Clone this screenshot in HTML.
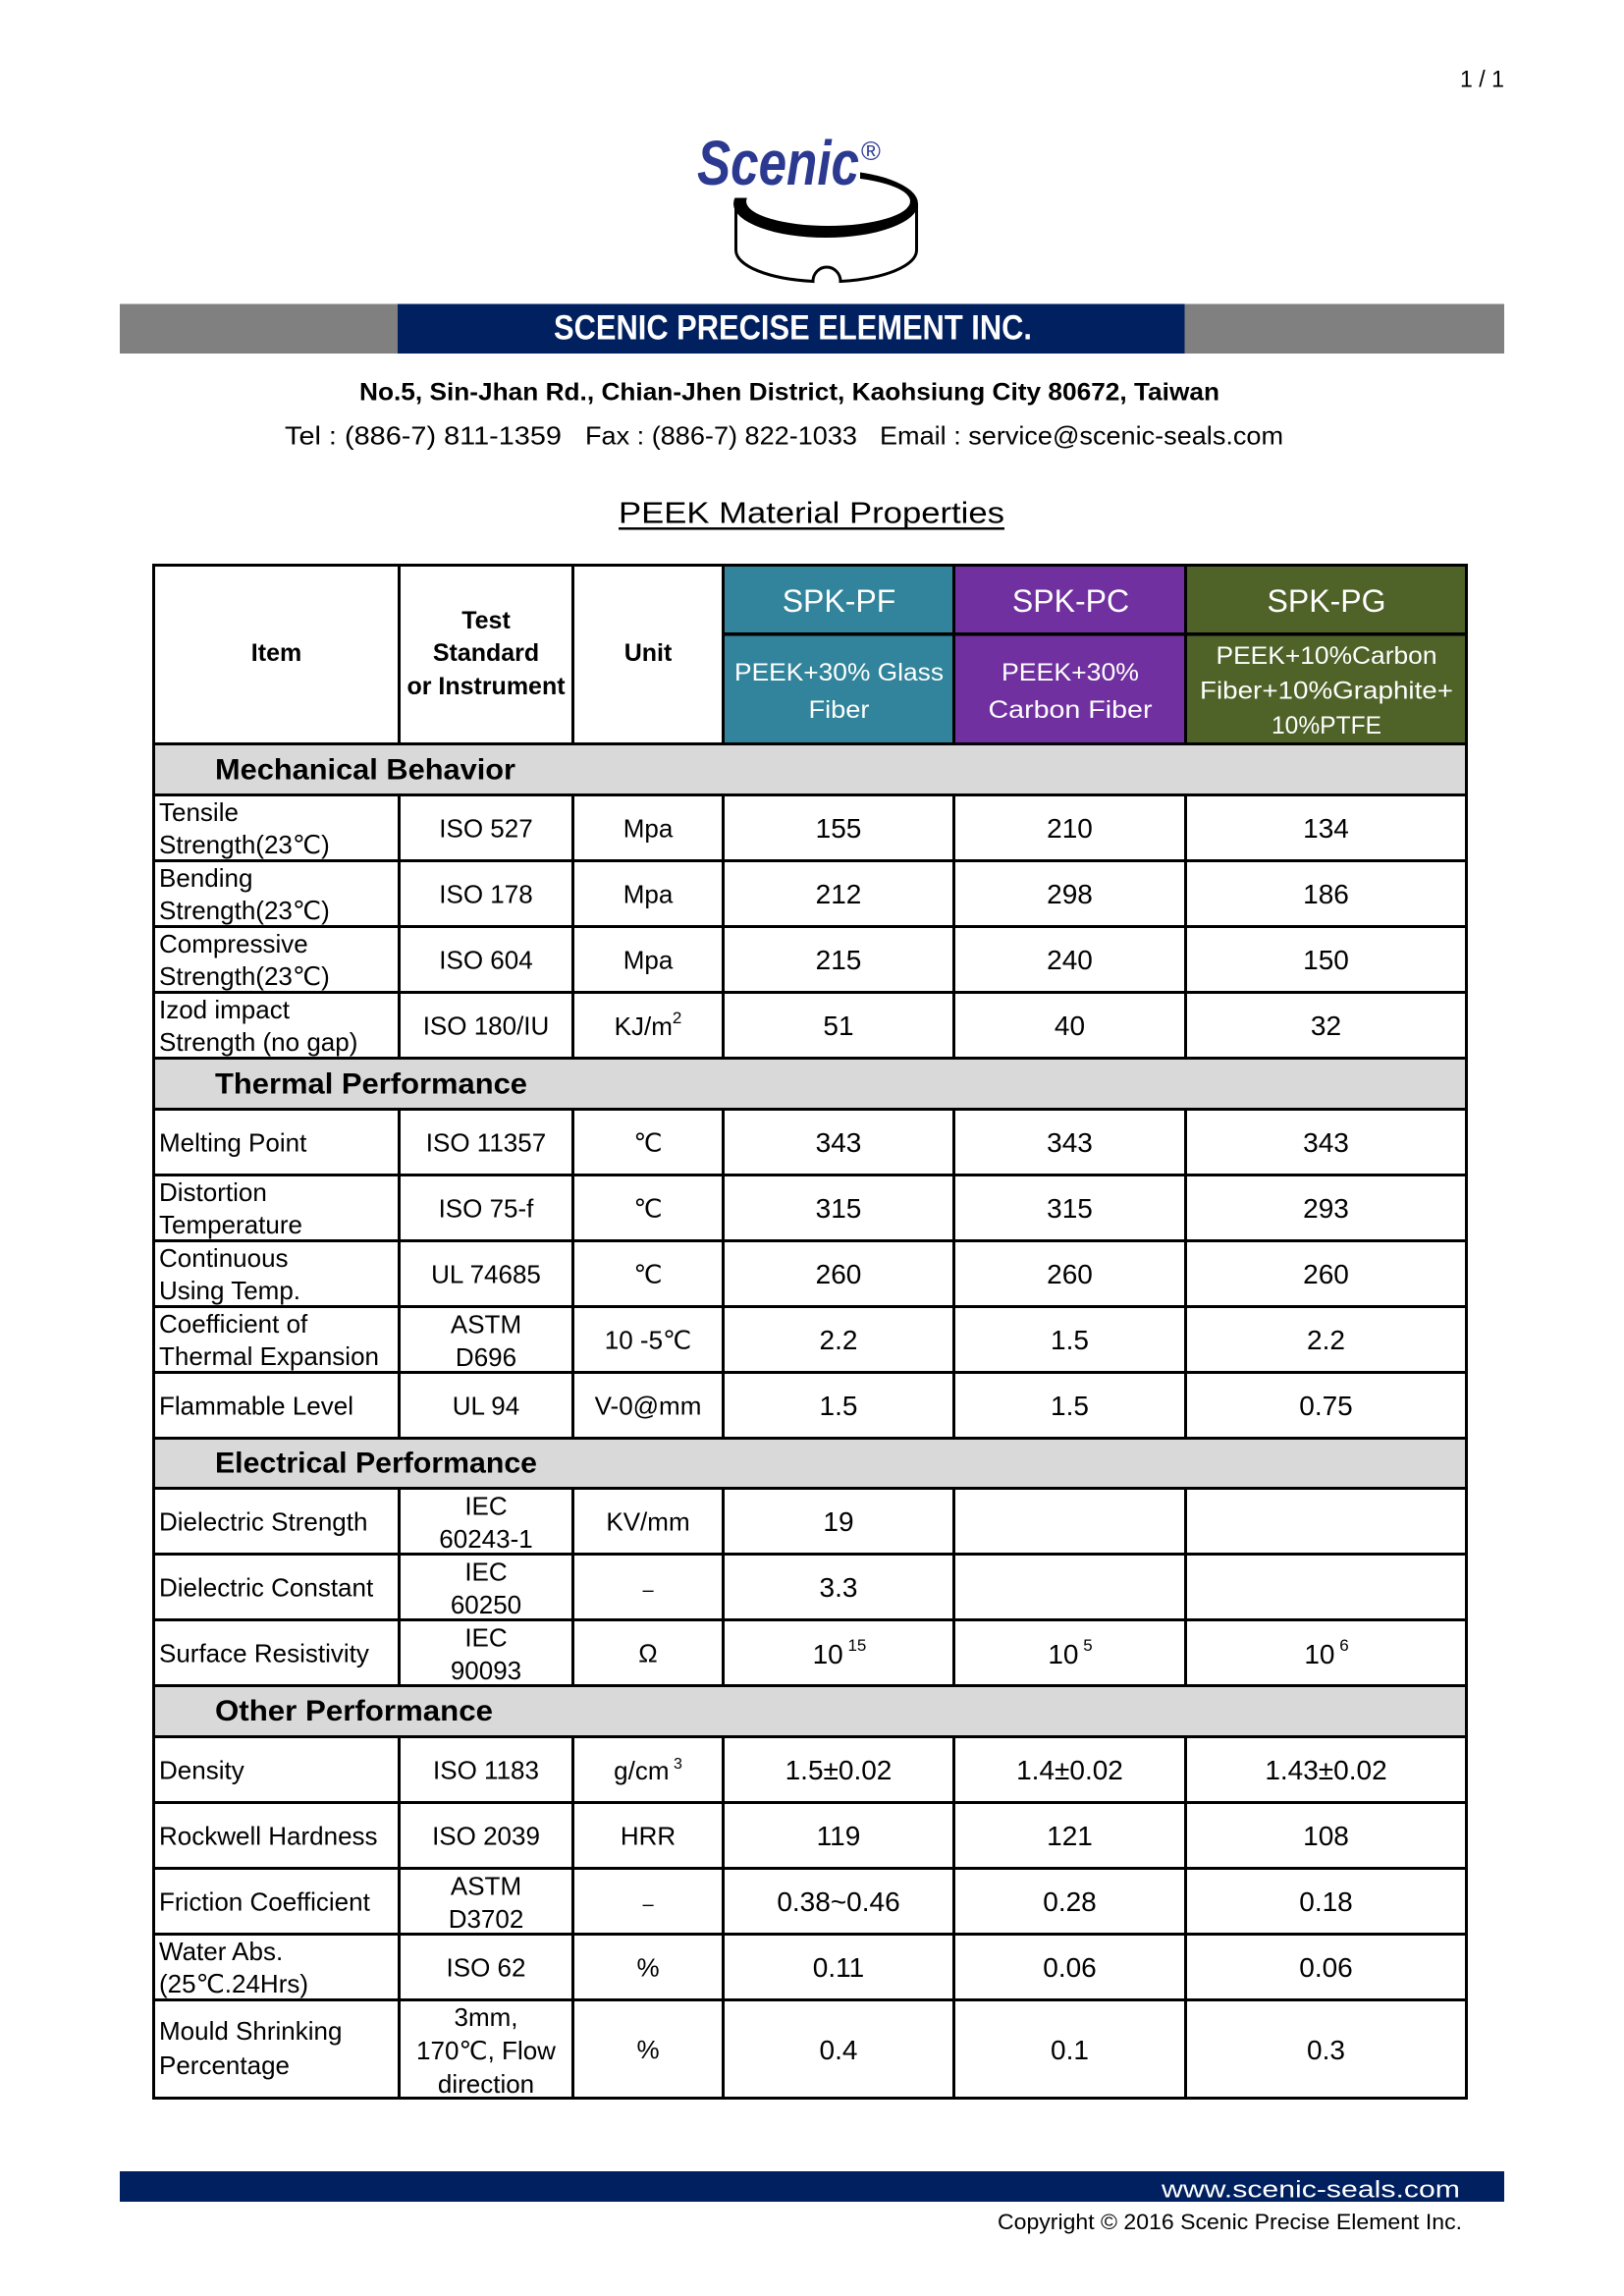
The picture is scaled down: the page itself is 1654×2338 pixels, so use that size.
<!DOCTYPE html>
<html><head><meta charset="utf-8"><style>
html,body{margin:0;padding:0;background:#fff;}
svg{display:block;}
</style></head><body>
<svg xmlns="http://www.w3.org/2000/svg" width="1654" height="2338" viewBox="0 0 1654 2338">
<rect width="1654" height="2338" fill="#fff"/>
<g font-family="'Liberation Sans','DejaVu Sans','Noto Sans CJK SC',sans-serif" fill="#000">

<text x="1487" y="88.5" font-size="24" textLength="45" lengthAdjust="spacingAndGlyphs">1 / 1</text>

<!-- Logo -->
<path fill="#000" fill-rule="evenodd" d="M747,207.5 a94,34.5 0 1,0 188,0 a94,34.5 0 1,0 -188,0 Z M760,205 a83.5,25 0 1,0 167,0 a83.5,25 0 1,0 -167,0 Z"/>
<rect x="738" y="150" width="138" height="51.5" fill="#fff"/>
<path fill="none" stroke="#000" stroke-width="3" d="M749.5,207 V255 A92,32 0 0,0 828,286.5 A14,14.5 0 0,1 856,286.5 A92,32 0 0,0 933.5,255 V207"/>
<text x="710" y="188" font-size="64" font-weight="bold" font-style="italic" fill="#2B3990" textLength="165" lengthAdjust="spacingAndGlyphs">Scenic</text>
<text x="877" y="163" font-size="27" fill="#2B3990">®</text>

<!-- Company bar -->
<rect x="122" y="309.5" width="1410" height="50.5" fill="#808080"/>
<rect x="405" y="309.5" width="801.5" height="50.5" fill="#002060"/>
<text x="564" y="345.5" font-size="35" font-weight="bold" fill="#fff" textLength="487" lengthAdjust="spacingAndGlyphs">SCENIC PRECISE ELEMENT INC.</text>

<text x="366" y="407.5" font-size="25" font-weight="bold" textLength="876" lengthAdjust="spacingAndGlyphs">No.5, Sin-Jhan Rd., Chian-Jhen District, Kaohsiung City 80672, Taiwan</text>
<text x="290" y="452.5" font-size="26" textLength="282" lengthAdjust="spacingAndGlyphs">Tel :  (886-7) 811-1359</text>
<text x="596" y="452.5" font-size="26" textLength="277" lengthAdjust="spacingAndGlyphs">Fax : (886-7) 822-1033</text>
<text x="896" y="452.5" font-size="26" textLength="411" lengthAdjust="spacingAndGlyphs">Email : service@scenic-seals.com</text>

<text x="630" y="532.5" font-size="31" textLength="393" lengthAdjust="spacingAndGlyphs">PEEK Material Properties</text>
<rect x="630" y="537" width="393" height="2.5" fill="#000"/>

<!-- Table fills -->
<rect x="735" y="574" width="235" height="185" fill="#31849B"/>
<rect x="970" y="574" width="236" height="185" fill="#7030A0"/>
<rect x="1206" y="574" width="289" height="185" fill="#4F6228"/>
<rect x="155" y="756" width="1340" height="55" fill="#D9D9D9"/>
<rect x="155" y="1076" width="1340" height="55" fill="#D9D9D9"/>
<rect x="155" y="1463" width="1340" height="54" fill="#D9D9D9"/>
<rect x="155" y="1715" width="1340" height="55" fill="#D9D9D9"/>

<!-- Horizontal lines -->
<g fill="#000">
<rect x="155" y="574" width="1340" height="3"/>
<rect x="735" y="644" width="760" height="3.5"/>
<rect x="155" y="756" width="1340" height="3"/>
<rect x="155" y="808" width="1340" height="3"/>
<rect x="155" y="875" width="1340" height="3"/>
<rect x="155" y="942" width="1340" height="3"/>
<rect x="155" y="1009" width="1340" height="3"/>
<rect x="155" y="1076" width="1340" height="3"/>
<rect x="155" y="1128" width="1340" height="3"/>
<rect x="155" y="1195" width="1340" height="3"/>
<rect x="155" y="1262" width="1340" height="3"/>
<rect x="155" y="1329" width="1340" height="3"/>
<rect x="155" y="1396" width="1340" height="3"/>
<rect x="155" y="1463" width="1340" height="3"/>
<rect x="155" y="1514" width="1340" height="3"/>
<rect x="155" y="1581" width="1340" height="3"/>
<rect x="155" y="1648" width="1340" height="3"/>
<rect x="155" y="1715" width="1340" height="3"/>
<rect x="155" y="1767" width="1340" height="3"/>
<rect x="155" y="1834" width="1340" height="3"/>
<rect x="155" y="1901" width="1340" height="3"/>
<rect x="155" y="1968" width="1340" height="3"/>
<rect x="155" y="2035" width="1340" height="3"/>
<rect x="155" y="2135" width="1340" height="3"/>
<!-- Outer verticals -->
<rect x="155" y="574" width="3" height="1564"/>
<rect x="1492" y="574" width="3" height="1564"/>
<!-- Inner verticals per segment -->
<rect x="405" y="574" width="3" height="185"/><rect x="582" y="574" width="3" height="185"/><rect x="735" y="574" width="3" height="185"/><rect x="970" y="574" width="3" height="185"/><rect x="1206" y="574" width="3" height="185"/>
<rect x="405" y="808" width="3" height="271"/><rect x="582" y="808" width="3" height="271"/><rect x="735" y="808" width="3" height="271"/><rect x="970" y="808" width="3" height="271"/><rect x="1206" y="808" width="3" height="271"/>
<rect x="405" y="1128" width="3" height="338"/><rect x="582" y="1128" width="3" height="338"/><rect x="735" y="1128" width="3" height="338"/><rect x="970" y="1128" width="3" height="338"/><rect x="1206" y="1128" width="3" height="338"/>
<rect x="405" y="1514" width="3" height="204"/><rect x="582" y="1514" width="3" height="204"/><rect x="735" y="1514" width="3" height="204"/><rect x="970" y="1514" width="3" height="204"/><rect x="1206" y="1514" width="3" height="204"/>
<rect x="405" y="1767" width="3" height="371"/><rect x="582" y="1767" width="3" height="371"/><rect x="735" y="1767" width="3" height="371"/><rect x="970" y="1767" width="3" height="371"/><rect x="1206" y="1767" width="3" height="371"/>
</g>

<!-- Header text -->
<g font-size="25" font-weight="bold" text-anchor="middle">
<text x="281.5" y="673">Item</text>
<text x="495" y="640">Test</text>
<text x="495" y="673">Standard</text>
<text x="495" y="707">or Instrument</text>
<text x="660" y="673">Unit</text>
</g>
<g font-size="32" fill="#fff" text-anchor="middle">
<text x="854.5" y="623">SPK-PF</text>
<text x="1090.5" y="623">SPK-PC</text>
<text x="1351" y="623">SPK-PG</text>
</g>
<g font-size="25" fill="#fff" text-anchor="middle">
<text x="854.5" y="693" textLength="213" lengthAdjust="spacingAndGlyphs">PEEK+30% Glass</text>
<text x="854.5" y="731" textLength="62" lengthAdjust="spacingAndGlyphs">Fiber</text>
<text x="1090" y="693" textLength="140" lengthAdjust="spacingAndGlyphs">PEEK+30%</text>
<text x="1090" y="731" textLength="167" lengthAdjust="spacingAndGlyphs">Carbon Fiber</text>
<text x="1351" y="676" textLength="225" lengthAdjust="spacingAndGlyphs">PEEK+10%Carbon</text>
<text x="1351" y="711.5" textLength="258" lengthAdjust="spacingAndGlyphs">Fiber+10%Graphite+</text>
<text x="1351" y="747" textLength="112" lengthAdjust="spacingAndGlyphs">10%PTFE</text>
</g>

<!-- Section bands -->
<g font-size="30" font-weight="bold">
<text x="219" y="793.5" textLength="306" lengthAdjust="spacingAndGlyphs">Mechanical Behavior</text>
<text x="219" y="1113.5" textLength="318" lengthAdjust="spacingAndGlyphs">Thermal Performance</text>
<text x="219" y="1499.5" textLength="328" lengthAdjust="spacingAndGlyphs">Electrical Performance</text>
<text x="219" y="1752" textLength="283" lengthAdjust="spacingAndGlyphs">Other Performance</text>
</g>

<!-- Item labels -->
<g font-size="26">
<text x="162" y="836">Tensile</text><text x="162" y="869">Strength(23℃)</text>
<text x="162" y="903">Bending</text><text x="162" y="936">Strength(23℃)</text>
<text x="162" y="970">Compressive</text><text x="162" y="1003">Strength(23℃)</text>
<text x="162" y="1037">Izod impact</text><text x="162" y="1070">Strength (no gap)</text>
<text x="162" y="1172.5">Melting Point</text>
<text x="162" y="1223">Distortion</text><text x="162" y="1256">Temperature</text>
<text x="162" y="1290">Continuous</text><text x="162" y="1323">Using Temp.</text>
<text x="162" y="1357">Coefficient of</text><text x="162" y="1390">Thermal Expansion</text>
<text x="162" y="1440.5">Flammable Level</text>
<text x="162" y="1558.5">Dielectric Strength</text>
<text x="162" y="1625.5">Dielectric Constant</text>
<text x="162" y="1692.5">Surface Resistivity</text>
<text x="162" y="1811.5">Density</text>
<text x="162" y="1878.5">Rockwell Hardness</text>
<text x="162" y="1945.5">Friction Coefficient</text>
<text x="162" y="1996">Water Abs.</text><text x="162" y="2029">(25℃.24Hrs)</text>
<text x="162" y="2077">Mould Shrinking</text><text x="162" y="2112">Percentage</text>
</g>

<!-- Test standard -->
<g font-size="26" text-anchor="middle">
<text x="495" y="852.5">ISO 527</text>
<text x="495" y="919.5">ISO 178</text>
<text x="495" y="986.5">ISO 604</text>
<text x="495" y="1053.5">ISO 180/IU</text>
<text x="495" y="1172.5">ISO 11357</text>
<text x="495" y="1239.5">ISO 75-f</text>
<text x="495" y="1306.5">UL 74685</text>
<text x="495" y="1357.5">ASTM</text><text x="495" y="1391">D696</text>
<text x="495" y="1440.5">UL 94</text>
<text x="495" y="1542.5">IEC</text><text x="495" y="1576">60243-1</text>
<text x="495" y="1609.5">IEC</text><text x="495" y="1643">60250</text>
<text x="495" y="1676.5">IEC</text><text x="495" y="1710">90093</text>
<text x="495" y="1811.5">ISO 1183</text>
<text x="495" y="1878.5">ISO 2039</text>
<text x="495" y="1929.5">ASTM</text><text x="495" y="1963">D3702</text>
<text x="495" y="2012.5">ISO 62</text>
<text x="495" y="2063">3mm,</text><text x="495" y="2097">170℃, Flow</text><text x="495" y="2131">direction</text>
</g>

<!-- Units -->
<g font-size="26" text-anchor="middle">
<text x="660" y="852.5">Mpa</text>
<text x="660" y="919.5">Mpa</text>
<text x="660" y="986.5">Mpa</text>
<text x="660" y="1054">KJ/m<tspan font-size="17" dy="-12">2</tspan></text>
<text x="660" y="1172.5">℃</text>
<text x="660" y="1239.5">℃</text>
<text x="660" y="1306.5">℃</text>
<text x="660" y="1373.5">10 -5℃</text>
<text x="660" y="1440.5">V-0@mm</text>
<text x="660" y="1558.5">KV/mm</text>
<text x="660" y="1625.5" font-size="20">–</text>
<text x="660" y="1692.5">Ω</text>
<text x="660" y="1812">g/cm<tspan font-size="16" dy="-11"> 3</tspan></text>
<text x="660" y="1878.5">HRR</text>
<text x="660" y="1945.5" font-size="20">–</text>
<text x="660" y="2012.5">%</text>
<text x="660" y="2096">%</text>
</g>

<!-- Values -->
<g font-size="28" text-anchor="middle">
<text x="854" y="853">155</text><text x="1089.5" y="853">210</text><text x="1350.5" y="853">134</text>
<text x="854" y="920">212</text><text x="1089.5" y="920">298</text><text x="1350.5" y="920">186</text>
<text x="854" y="987">215</text><text x="1089.5" y="987">240</text><text x="1350.5" y="987">150</text>
<text x="854" y="1054">51</text><text x="1089.5" y="1054">40</text><text x="1350.5" y="1054">32</text>
<text x="854" y="1173">343</text><text x="1089.5" y="1173">343</text><text x="1350.5" y="1173">343</text>
<text x="854" y="1240">315</text><text x="1089.5" y="1240">315</text><text x="1350.5" y="1240">293</text>
<text x="854" y="1307">260</text><text x="1089.5" y="1307">260</text><text x="1350.5" y="1307">260</text>
<text x="854" y="1374">2.2</text><text x="1089.5" y="1374">1.5</text><text x="1350.5" y="1374">2.2</text>
<text x="854" y="1441">1.5</text><text x="1089.5" y="1441">1.5</text><text x="1350.5" y="1441">0.75</text>
<text x="854" y="1559">19</text>
<text x="854" y="1626">3.3</text>
<text x="855" y="1694">10<tspan font-size="17" dy="-13"> 15</tspan></text>
<text x="1090" y="1694">10<tspan font-size="17" dy="-13"> 5</tspan></text>
<text x="1351" y="1694">10<tspan font-size="17" dy="-13"> 6</tspan></text>
<text x="854" y="1812">1.5±0.02</text><text x="1089.5" y="1812">1.4±0.02</text><text x="1350.5" y="1812">1.43±0.02</text>
<text x="854" y="1879">119</text><text x="1089.5" y="1879">121</text><text x="1350.5" y="1879">108</text>
<text x="854" y="1946">0.38~0.46</text><text x="1089.5" y="1946">0.28</text><text x="1350.5" y="1946">0.18</text>
<text x="854" y="2013">0.11</text><text x="1089.5" y="2013">0.06</text><text x="1350.5" y="2013">0.06</text>
<text x="854" y="2097">0.4</text><text x="1089.5" y="2097">0.1</text><text x="1350.5" y="2097">0.3</text>
</g>

<!-- Footer -->
<rect x="122" y="2211" width="1410" height="31" fill="#002060"/>
<text x="1183" y="2237.5" font-size="24.5" fill="#fff" textLength="304" lengthAdjust="spacingAndGlyphs">www.scenic-seals.com</text>
<text x="1016" y="2270" font-size="22" textLength="473" lengthAdjust="spacingAndGlyphs">Copyright © 2016 Scenic Precise Element Inc.</text>

</g>
</svg>
</body></html>
